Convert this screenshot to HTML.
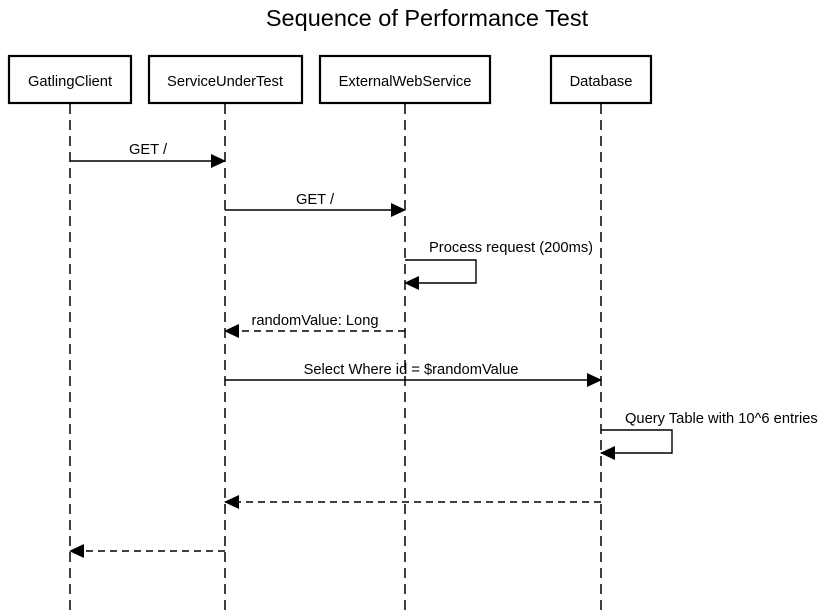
<!DOCTYPE html>
<html><head><meta charset="utf-8"><style>
html,body{margin:0;padding:0;background:#fff;width:826px;height:613px;overflow:hidden}
text{font-family:"Liberation Sans",Arial,sans-serif;fill:#000}
</style></head><body>
<svg width="826" height="613" viewBox="0 0 826 613" xmlns="http://www.w3.org/2000/svg">
<defs>
<marker id="a" markerWidth="15" markerHeight="14" refX="14" refY="7" orient="auto" markerUnits="userSpaceOnUse">
<path d="M0,0 L15,7 L0,14 Z" fill="#000"/></marker>
</defs>
<text x="427" y="26" font-size="23.5" text-anchor="middle">Sequence of Performance Test</text>
<g stroke="#000" stroke-width="1.5" stroke-dasharray="10,6" fill="none">
<line x1="70" y1="104" x2="70" y2="613"/>
<line x1="225" y1="104" x2="225" y2="613"/>
<line x1="405" y1="104" x2="405" y2="613"/>
<line x1="601" y1="104" x2="601" y2="613"/>
</g>
<g stroke="#000" stroke-width="2.2" fill="#fff">
<rect x="9" y="56" width="122" height="47"/>
<rect x="149" y="56" width="153" height="47"/>
<rect x="320" y="56" width="170" height="47"/>
<rect x="551" y="56" width="100" height="47"/>
</g>
<g font-size="14.7" text-anchor="middle">
<text x="70" y="86">GatlingClient</text>
<text x="225" y="86">ServiceUnderTest</text>
<text x="405" y="86">ExternalWebService</text>
<text x="601" y="86">Database</text>
</g>
<g stroke="#000" stroke-width="1.4" fill="none">
<line x1="70" y1="161" x2="225" y2="161" marker-end="url(#a)"/>
<line x1="225" y1="210" x2="405" y2="210" marker-end="url(#a)"/>
<polyline points="405,260 476,260 476,283 405,283" marker-end="url(#a)"/>
<line x1="405" y1="331" x2="225" y2="331" stroke-dasharray="7,5" marker-end="url(#a)"/>
<line x1="225" y1="380" x2="601" y2="380" marker-end="url(#a)"/>
<polyline points="601,430 672,430 672,453 601,453" marker-end="url(#a)"/>
<line x1="601" y1="502" x2="225" y2="502" stroke-dasharray="7,5" marker-end="url(#a)"/>
<line x1="225" y1="551" x2="70" y2="551" stroke-dasharray="7,5" marker-end="url(#a)"/>
</g>
<g font-size="14.7" text-anchor="middle">
<text x="148" y="154">GET /</text>
<text x="315" y="204">GET /</text>
<text x="315" y="325">randomValue: Long</text>
<text x="411" y="374">Select Where id = $randomValue</text>
</g>
<g font-size="14.7">
<text x="429" y="252">Process request (200ms)</text>
<text x="625" y="423">Query Table with 10^6 entries</text>
</g>
</svg>
</body></html>
